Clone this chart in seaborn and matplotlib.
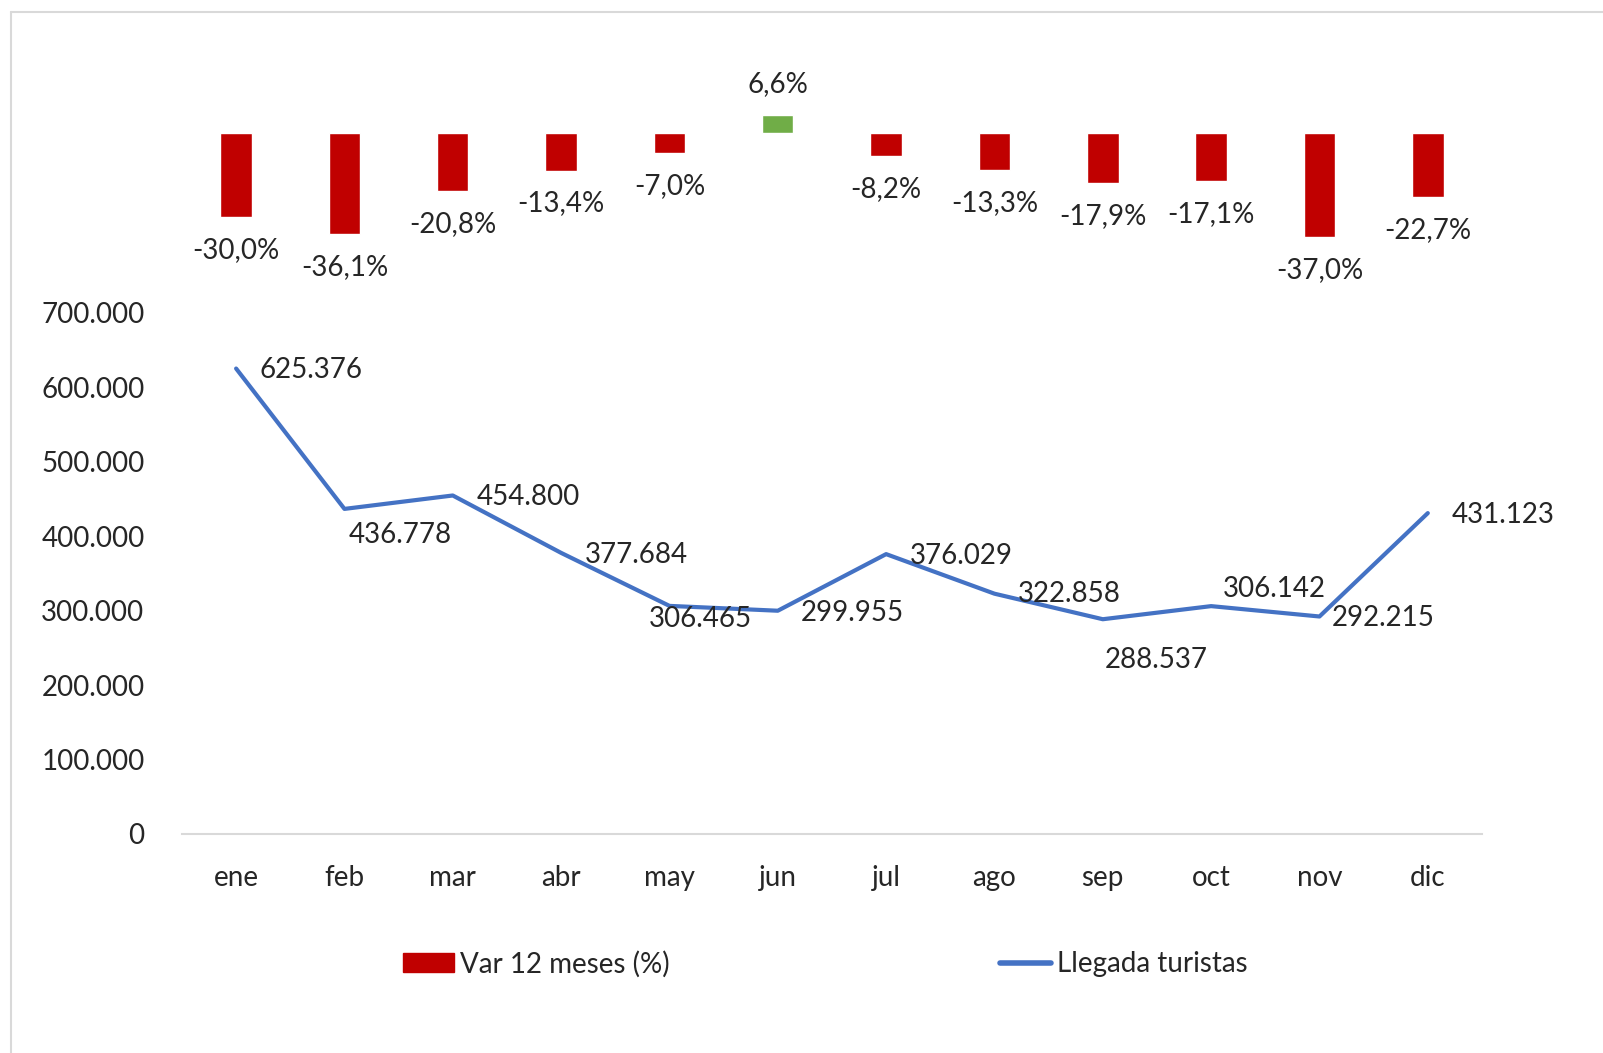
import numpy as np
import seaborn as sns
import matplotlib.pyplot as plt
from matplotlib.patches import Patch
from matplotlib.lines import Line2D
from matplotlib.ticker import FuncFormatter

# datos
meses = ['ene', 'feb', 'mar', 'abr', 'may', 'jun', 'jul', 'ago', 'sep', 'oct', 'nov', 'dic']
llegadas = [625376, 436778, 454800, 377684, 306465, 299955, 376029, 322858, 288537, 306142, 292215, 431123]
variacion = [-30.0, -36.1, -20.8, -13.4, -7.0, 6.6, -8.2, -13.3, -17.9, -17.1, -37.0, -22.7]

# desplazamiento de etiquetas de la linea (pixeles)
offsets = [(75, -1), (56, -26), (76, -2), (75, -2), (31, -13), (75, -2),
           (75, -2), (75, 0), (53, -41), (63, 17), (64, -2), (75, -2)]

sns.set_style('white')
plt.rcParams['font.family'] = ['Lato', 'DejaVu Sans']

AZUL = '#4472C4'
ROJO = '#C00000'
VERDE = '#70AD47'
FS = 20

fig = plt.figure(figsize=(16.03, 10.53), dpi=100)
ax = fig.add_axes([0.1135, 0.208, 0.811, 0.735])
ax2 = ax.twinx()

x = np.arange(len(meses))

# barras de variacion (eje secundario, oculto)
colores = [VERDE if v > 0 else ROJO for v in variacion]
sns.barplot(x=meses, y=variacion, hue=meses, palette=colores, legend=False,
            width=0.29, ax=ax2, saturation=1)
ax2.set_ylim(-250.4, 26.07)
ax2.set_xlim(-0.5, 11.5)
ax2.set_yticks([])
ax2.set_ylabel('')
for s in ax2.spines.values():
    s.set_visible(False)
for i, v in enumerate(variacion):
    txt = f'{v:.1f}%'.replace('.', ',')
    if v < 0:
        ax2.annotate(txt, (i, v), xytext=(0, -33), textcoords='offset pixels',
                     ha='center', va='center', fontsize=FS)
    else:
        ax2.annotate(txt, (i, v), xytext=(0, 30), textcoords='offset pixels',
                     ha='center', va='center', fontsize=FS)

# linea de llegadas
sns.lineplot(x=x, y=llegadas, color=AZUL, linewidth=3, ax=ax)
ax.set_ylim(0, 1039900)
ax.set_xlim(-0.5, 11.5)
ax.set_yticks(np.arange(0, 700001, 100000))
ax.yaxis.set_major_formatter(FuncFormatter(lambda v, p: f'{int(v):,}'.replace(',', '.')))
ax.tick_params(axis='y', length=0, pad=27, labelsize=FS)
ax.set_xticks(x)
ax.set_xticklabels(meses)
ax.set_xticks(np.arange(-0.5, 12, 1), minor=True)
ax.tick_params(axis='x', which='major', length=0, pad=22, labelsize=FS)
ax.tick_params(axis='x', which='minor', length=10, width=1.5, color='#D9D9D9', direction='out')
for k in ['top', 'right', 'left']:
    ax.spines[k].set_visible(False)
ax.spines['bottom'].set_color('#D9D9D9')
ax.spines['bottom'].set_linewidth(1.5)
ax.set_zorder(ax2.get_zorder() + 1)
ax.patch.set_visible(False)

for i, v in enumerate(llegadas):
    ax.annotate(f'{v:,}'.replace(',', '.'), (i, v), xytext=offsets[i],
                textcoords='offset pixels', ha='center', va='center', fontsize=FS)

# leyenda
handles = [Patch(facecolor=ROJO, edgecolor=ROJO), Line2D([], [], color=AZUL, linewidth=4)]
fig.legend(handles, ['Var 12 meses (%)', 'Llegada turistas'], loc='center',
           bbox_to_anchor=(825 / 1603, 1 - 964 / 1053), ncol=2, frameon=False,
           fontsize=FS, handlelength=1.85, handletextpad=0.2, columnspacing=11.9)

# marco del grafico
fig.add_artist(Line2D([11 / 1603, 1], [1 - 12 / 1053, 1 - 12 / 1053], color='#D9D9D9', linewidth=1.5))
fig.add_artist(Line2D([11 / 1603, 11 / 1603], [0, 1 - 12 / 1053], color='#D9D9D9', linewidth=1.5))

fig.savefig('out.png', dpi=100)
